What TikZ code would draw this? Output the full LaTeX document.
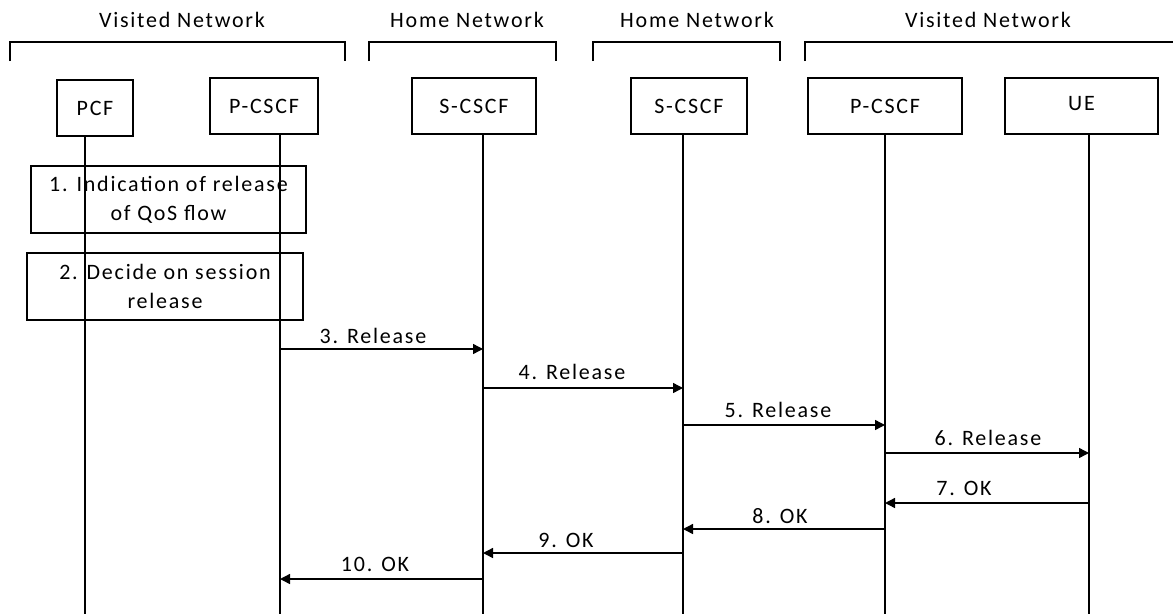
\documentclass[tikz,border=0pt]{standalone}
\usepackage{fontspec}
\setmainfont{Carlito}[LetterSpace=8]
\usetikzlibrary{arrows.meta}
\begin{document}
\begin{tikzpicture}[x=1pt,y=-1pt,
  every node/.style={font=\fontsize{22}{29}\selectfont},
  ent/.style={draw,line width=1.4pt,minimum height=56pt,inner sep=0pt},
  life/.style={line width=1.4pt},
  brk/.style={line width=1.4pt},
  stepbox/.style={draw,line width=1.4pt,inner sep=0pt,align=center},
  msg/.style={line width=1.4pt,-{Triangle[length=10pt,width=10pt]}},
  lbl/.style={inner sep=1pt}]
\useasboundingbox (0,0) rectangle (1173,614);
% network brackets
\draw[brk] (10,61) -- (10,42) -- (345,42) -- (345,61);
\draw[brk] (369,61) -- (369,42) -- (556,42) -- (556,61);
\draw[brk] (593,61) -- (593,42) -- (780,42) -- (780,61);
\draw[brk] (805,61) -- (805,42) -- (1175,42);
\node (n1) at (182,20) {Visited Network};
\node (n2) at (467,20) {Home Network};
\node (n3) at (697,20) {Home Network};
\node (n4) at (988,20) {Visited Network};
% entities
\node[ent,minimum width=76pt] (pcf) at (95,108) {PCF};
\node[ent,minimum width=108pt] (pc1) at (264,106) {P-CSCF};
\node[ent,minimum width=124pt] (sc1) at (474,106) {S-CSCF};
\node[ent,minimum width=116pt] (sc2) at (689,106) {S-CSCF};
\node[ent,minimum width=154pt] (pc2) at (885,106) {P-CSCF};
\node[ent,minimum width=153pt] (ue) at (1081.5,106) {\raisebox{5pt}{UE}};
% lifeline ends
\coordinate (epcf) at (85,614);
\coordinate (epc1) at (280,614);
\coordinate (esc1) at (483,614);
\coordinate (esc2) at (683,614);
\coordinate (epc2) at (885,614);
\coordinate (eue) at (1089,614);
\draw[life] (85,136) -- (epcf);
\draw[life] (280,134) -- (epc1);
\draw[life] (483,134) -- (esc1);
\draw[life] (683,134) -- (esc2);
\draw[life] (885,134) -- (epc2);
\draw[life] (1089,134) -- (eue);
% step boxes
\node[stepbox,minimum width=275pt,minimum height=67pt] (s1) at (168.5,199.5) {1. Indication of release\\of QoS flow};
\node[stepbox,minimum width=276pt,minimum height=67pt] (s2) at (165,286.5) {2. Decide on session\\release};
% messages
\coordinate (a3) at (280,349); \coordinate (b3) at (483,349);
\coordinate (a4) at (483,388); \coordinate (b4) at (683,388);
\coordinate (a5) at (683,425); \coordinate (b5) at (885,425);
\coordinate (a6) at (885,453); \coordinate (b6) at (1089,453);
\coordinate (a7) at (1089,503); \coordinate (b7) at (885,503);
\coordinate (a8) at (885,529); \coordinate (b8) at (683,529);
\coordinate (a9) at (683,553); \coordinate (b9) at (483,553);
\coordinate (a10) at (483,579); \coordinate (b10) at (280,579);
\draw[msg] (a3) -- (b3);
\draw[msg] (a4) -- (b4);
\draw[msg] (a5) -- (b5);
\draw[msg] (a6) -- (b6);
\draw[msg] (a7) -- (b7);
\draw[msg] (a8) -- (b8);
\draw[msg] (a9) -- (b9);
\draw[msg] (a10) -- (b10);
\node[lbl] (l3) at (373,336) {3. Release};
\node[lbl] (l4) at (572,372) {4. Release};
\node[lbl] (l5) at (778,410) {5. Release};
\node[lbl] (l6) at (988,438) {6. Release};
\node[lbl] (l7) at (964,488) {7. OK};
\node[lbl] (l8) at (780,516) {8. OK};
\node[lbl] (l9) at (566,540) {9. OK};
\node[lbl] (l10) at (375,564) {10. OK};
\end{tikzpicture}
\end{document}
